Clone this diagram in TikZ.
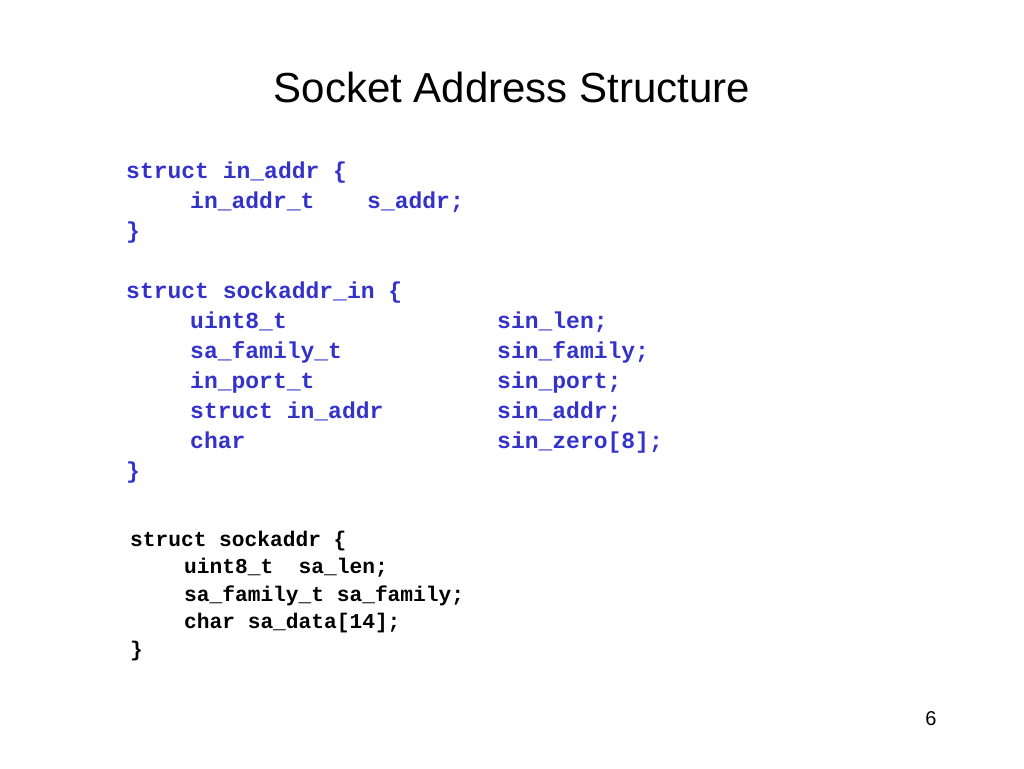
\documentclass[tikz,border=0pt]{standalone}
\usepackage{fontspec}
\setmainfont{Liberation Sans}
\newfontfamily\cmono{Liberation Mono}
\definecolor{codeblue}{RGB}{51,51,204}
\begin{document}
\begin{tikzpicture}[x=1pt,y=-1pt,
  cb/.style={anchor=base west,inner sep=0pt,text=codeblue,font=\cmono\bfseries\fontsize{23}{23}\selectfont},
  ck/.style={anchor=base west,inner sep=0pt,text=black,font=\cmono\bfseries\fontsize{21.2}{21}\selectfont}]
\useasboundingbox (0,0) rectangle (1024,768);
\node[anchor=base,inner sep=0pt,font=\fontsize{42}{42}\selectfont] (title) at (512,102) {Socket Address Structure};
\node[cb] (a1) at (126,178) {struct in\_addr \{};
\node[cb] (a2) at (190,208) {in\_addr\_t};
\node[cb] (a3) at (367,208) {s\_addr;};
\node[cb] (a4) at (126,238) {\}};
\node[cb] (b1) at (126,298) {struct sockaddr\_in \{};
\node[cb] (b2) at (190,328) {uint8\_t};
\node[cb] (b3) at (190,358) {sa\_family\_t};
\node[cb] (b4) at (190,388) {in\_port\_t};
\node[cb] (b5) at (190,418) {struct in\_addr};
\node[cb] (b6) at (190,448) {char};
\node[cb] (c2) at (497,328) {sin\_len;};
\node[cb] (c3) at (497,358) {sin\_family;};
\node[cb] (c4) at (497,388) {sin\_port;};
\node[cb] (c5) at (497,418) {sin\_addr;};
\node[cb] (c6) at (497,448) {sin\_zero[8];};
\node[cb] (b7) at (126,478) {\}};
\node[ck] (d1) at (130,546) {struct sockaddr \{};
\node[ck] (d2) at (184,573) {uint8\_t\ \ sa\_len;};
\node[ck] (d3) at (184,601) {sa\_family\_t sa\_family;};
\node[ck] (d4) at (184,628) {char sa\_data[14];};
\node[ck] (d5) at (130,656) {\}};
\node[anchor=base,inner sep=0pt,font=\fontsize{20}{20}\selectfont] (pg) at (931,725) {6};
\end{tikzpicture}
\end{document}
